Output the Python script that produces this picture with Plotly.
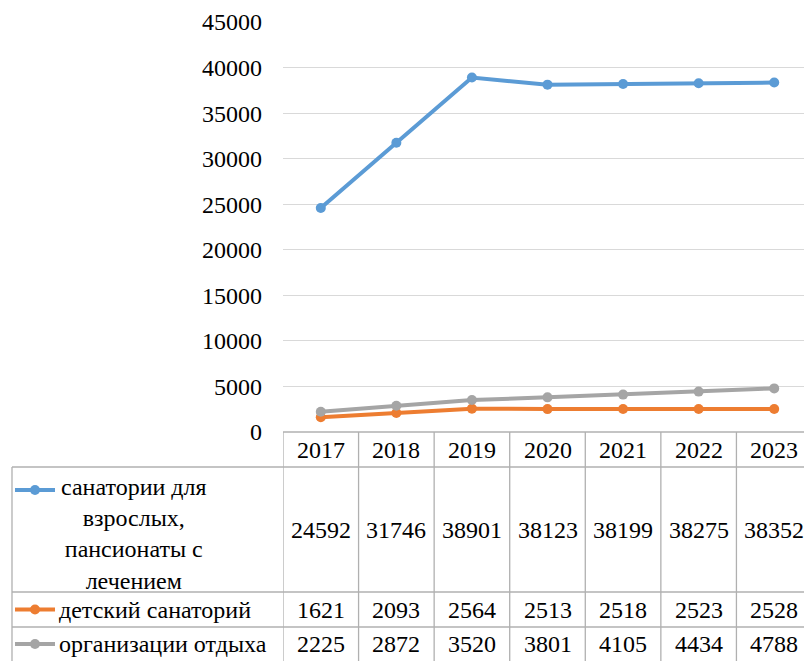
import plotly.graph_objects as go

years = ["2017", "2018", "2019", "2020", "2021", "2022", "2023"]
series_names = ["санатории для<br>взрослых,<br>пансионаты с<br>лечением",
                "детский санаторий", "организации отдыха"]
adult = [24592, 31746, 38901, 38123, 38199, 38275, 38352]
child = [1621, 2093, 2564, 2513, 2518, 2523, 2528]
rest = [2225, 2872, 3520, 3801, 4105, 4434, 4788]
y_ticks = [0, 5000, 10000, 15000, 20000, 25000, 30000, 35000, 40000, 45000]

series = [adult, child, rest]
colors = ["#5B9BD5", "#ED7D31", "#A5A5A5"]

OFF = 8  # page body margin
W, H = 812 - OFF, 661 - OFF
L, R, T, B = 283 - OFF, 0, 22 - OFF, 661 - 432
PW, PH = W - L - R, H - T - B
FONT = "Liberation Serif"


def py(p):
    return (432 - p) / PH


def px(p):
    return (p - 283) / PW


fig = go.Figure()
for vals, col in zip(series, colors):
    fig.add_trace(go.Scatter(x=years, y=vals, mode="lines+markers",
                             line=dict(color=col, width=4),
                             marker=dict(color=col, size=10),
                             showlegend=False, hoverinfo="skip"))

shapes = []
annots = []
border = "#B0B0B0"
row_b = [432, 467, 592, 627, 661]
shapes.append(dict(type="line", xref="paper", yref="paper", x0=0, x1=1,
                   y0=py(432), y1=py(432), line=dict(color=border, width=1.3)))
for rb in row_b[1:4]:
    shapes.append(dict(type="line", xref="paper", yref="paper", x0=px(12), x1=1,
                       y0=py(rb), y1=py(rb), line=dict(color=border, width=1.3)))
shapes.append(dict(type="line", xref="paper", yref="paper", x0=px(12), x1=px(12),
                   y0=py(467), y1=py(661), line=dict(color=border, width=1.3)))
for i in range(len(years) + 1):
    shapes.append(dict(type="line", xref="x", yref="paper", x0=i - 0.5, x1=i - 0.5,
                       y0=py(432), y1=py(661), line=dict(color=border, width=1.3)))

row_centers = [529.5, 609.5, 644]
for i, yr in enumerate(years):
    annots.append(dict(x=i, y=py(449.5), xref="x", yref="paper", text=yr,
                       xanchor="center", yanchor="middle",
                       showarrow=False, font=dict(family=FONT, size=24, color="black")))
for vals, rc in zip(series, row_centers):
    for i, v in enumerate(vals):
        annots.append(dict(x=i, y=py(rc), xref="x", yref="paper", text=str(v),
                           xanchor="center", yanchor="middle",
                           showarrow=False, font=dict(family=FONT, size=24, color="black")))

key_y = [490, 609.5, 644]
label_pos = [(134, 534, "center"), (57, 609.5, "left"), (57, 644, "left")]
for name, col, ky, (lx, ly, al) in zip(series_names, colors, key_y, label_pos):
    shapes.append(dict(type="line", xref="paper", yref="paper", x0=px(15), x1=px(55),
                       y0=py(ky), y1=py(ky), line=dict(color=col, width=4)))
    shapes.append(dict(type="circle", xref="paper", yref="paper",
                       x0=px(30), x1=px(40), y0=py(ky - 5), y1=py(ky + 5),
                       fillcolor=col, line=dict(color=col, width=0)))
    annots.append(dict(x=px(lx), y=py(ly), xref="paper", yref="paper", text=name,
                       showarrow=False, xanchor=al, yanchor="middle", align="center",
                       font=dict(family=FONT, size=24, color="black")))

fig.update_layout(
    width=W, height=H,
    margin=dict(l=L, r=R, t=T, b=B),
    paper_bgcolor="white", plot_bgcolor="white",
    font=dict(family=FONT, size=24, color="black"),
    shapes=shapes, annotations=annots,
    xaxis=dict(type="category", range=[-0.5, 6.5], showticklabels=False,
               showgrid=False, zeroline=False, showline=False),
    yaxis=dict(range=[0, 45000], tickvals=y_ticks, ticktext=[str(t) for t in y_ticks],
               showgrid=True, gridcolor="#D9D9D9", gridwidth=1.3, zeroline=False,
               showline=False, ticklabelstandoff=20,
               tickfont=dict(family=FONT, size=24, color="black")),
)

fig.write_html("out.html")
